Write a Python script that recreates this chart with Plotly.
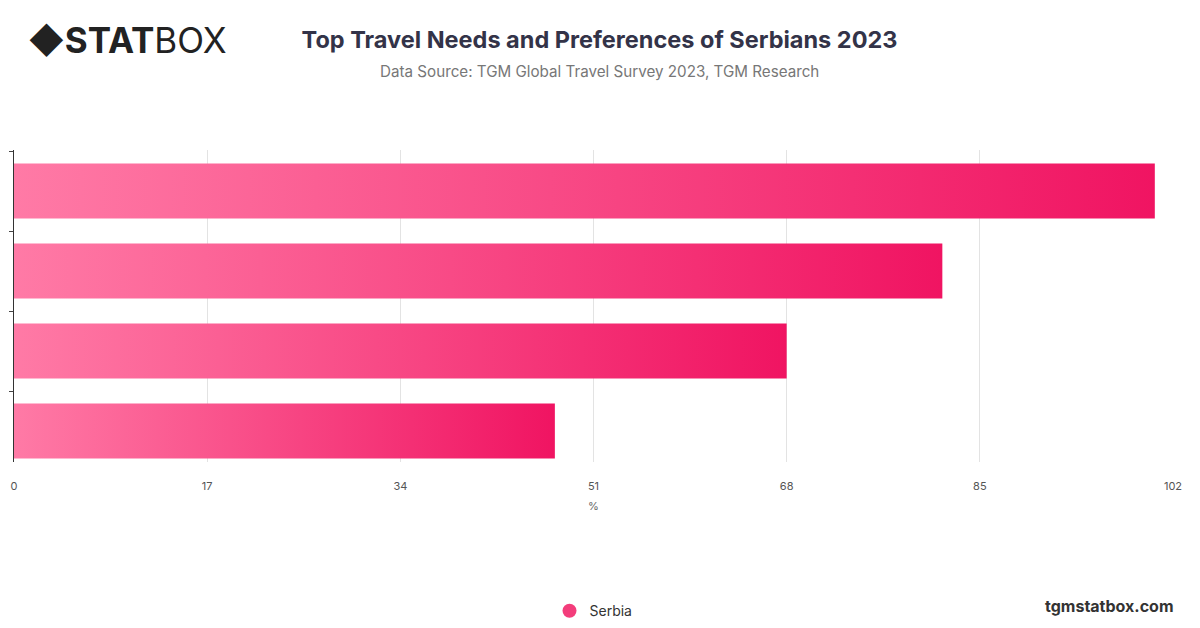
import plotly.graph_objects as go

categories = ["Need 1", "Need 2", "Need 3", "Need 4"]
values = [100.4, 81.7, 68.0, 47.6]
series_name = "Serbia"
ticks = [0, 17, 34, 51, 68, 85, 102]

fig = go.Figure()
half = 0.344
for i, (c, v) in enumerate(zip(categories, values)):
    fig.add_trace(go.Scatter(
        x=[0, v, v, 0, 0], y=[i - half, i - half, i + half, i + half, i - half],
        mode="lines", line=dict(width=0), fill="toself",
        fillgradient=dict(type="horizontal", colorscale=[[0, "#ff7aa6"], [1, "#f01462"]]),
        hoverinfo="text", text=f"{c}: {v}", showlegend=False))
fig.add_trace(go.Scatter(x=[None], y=[None], mode="markers", name=series_name,
                         marker=dict(color="#f33d7b", size=14, symbol="circle")))

fig.update_layout(
    width=1184, height=612, plot_bgcolor="white", paper_bgcolor="white",
    margin=dict(l=6, r=19, t=142, b=158, autoexpand=False),
    font=dict(family="Inter, Open Sans, sans-serif", color="#555"),
    title=dict(text="<b>Top Travel Needs and Preferences of Serbians 2023</b>", x=0.5052,
               xref="paper", y=1 - 32 / 612, yref="container", yanchor="middle",
               xanchor="center", font=dict(size=23.5, color="#333348")),
    legend=dict(orientation="h", x=0.5, xanchor="center", y=-0.478, yanchor="middle",
                font=dict(size=14, color="#333")),
    annotations=[
        dict(text="Data Source: TGM Global Travel Survey 2023, TGM Research", x=0.5052, y=1.253,
             xref="paper", yref="paper", xanchor="center", yanchor="middle", showarrow=False,
             font=dict(size=15.2, color="#777")),
        dict(text="◆<b>STAT</b>BOX", x=0.0104, y=1.353, xref="paper", yref="paper",
             xanchor="left", yanchor="middle", showarrow=False, font=dict(size=35, color="#222")),
        dict(text="<b>tgmstatbox.com</b>", x=1.0026, y=-0.462, xref="paper", yref="paper",
             xanchor="right", yanchor="middle", showarrow=False, font=dict(size=16, color="#333")),
    ],
    xaxis=dict(range=[0, 102], tickvals=ticks, showgrid=True, gridcolor="#e3e3e3",
               zeroline=False, title=dict(text="%", font=dict(size=11, color="#666"), standoff=10),
               ticks="outside", ticklen=14, tickcolor="rgba(0,0,0,0)",
               tickfont=dict(size=11, color="#555"), showline=False, automargin=False),
    yaxis=dict(range=[3.3875, -0.5125], showticklabels=False, showgrid=False,
               zeroline=False, showline=True, linecolor="#333", linewidth=1, automargin=False,
               ticks="outside", tickvals=[i + 0.5 for i in range(-1, len(categories))], ticklen=4),
)
fig.write_html("out.html")
